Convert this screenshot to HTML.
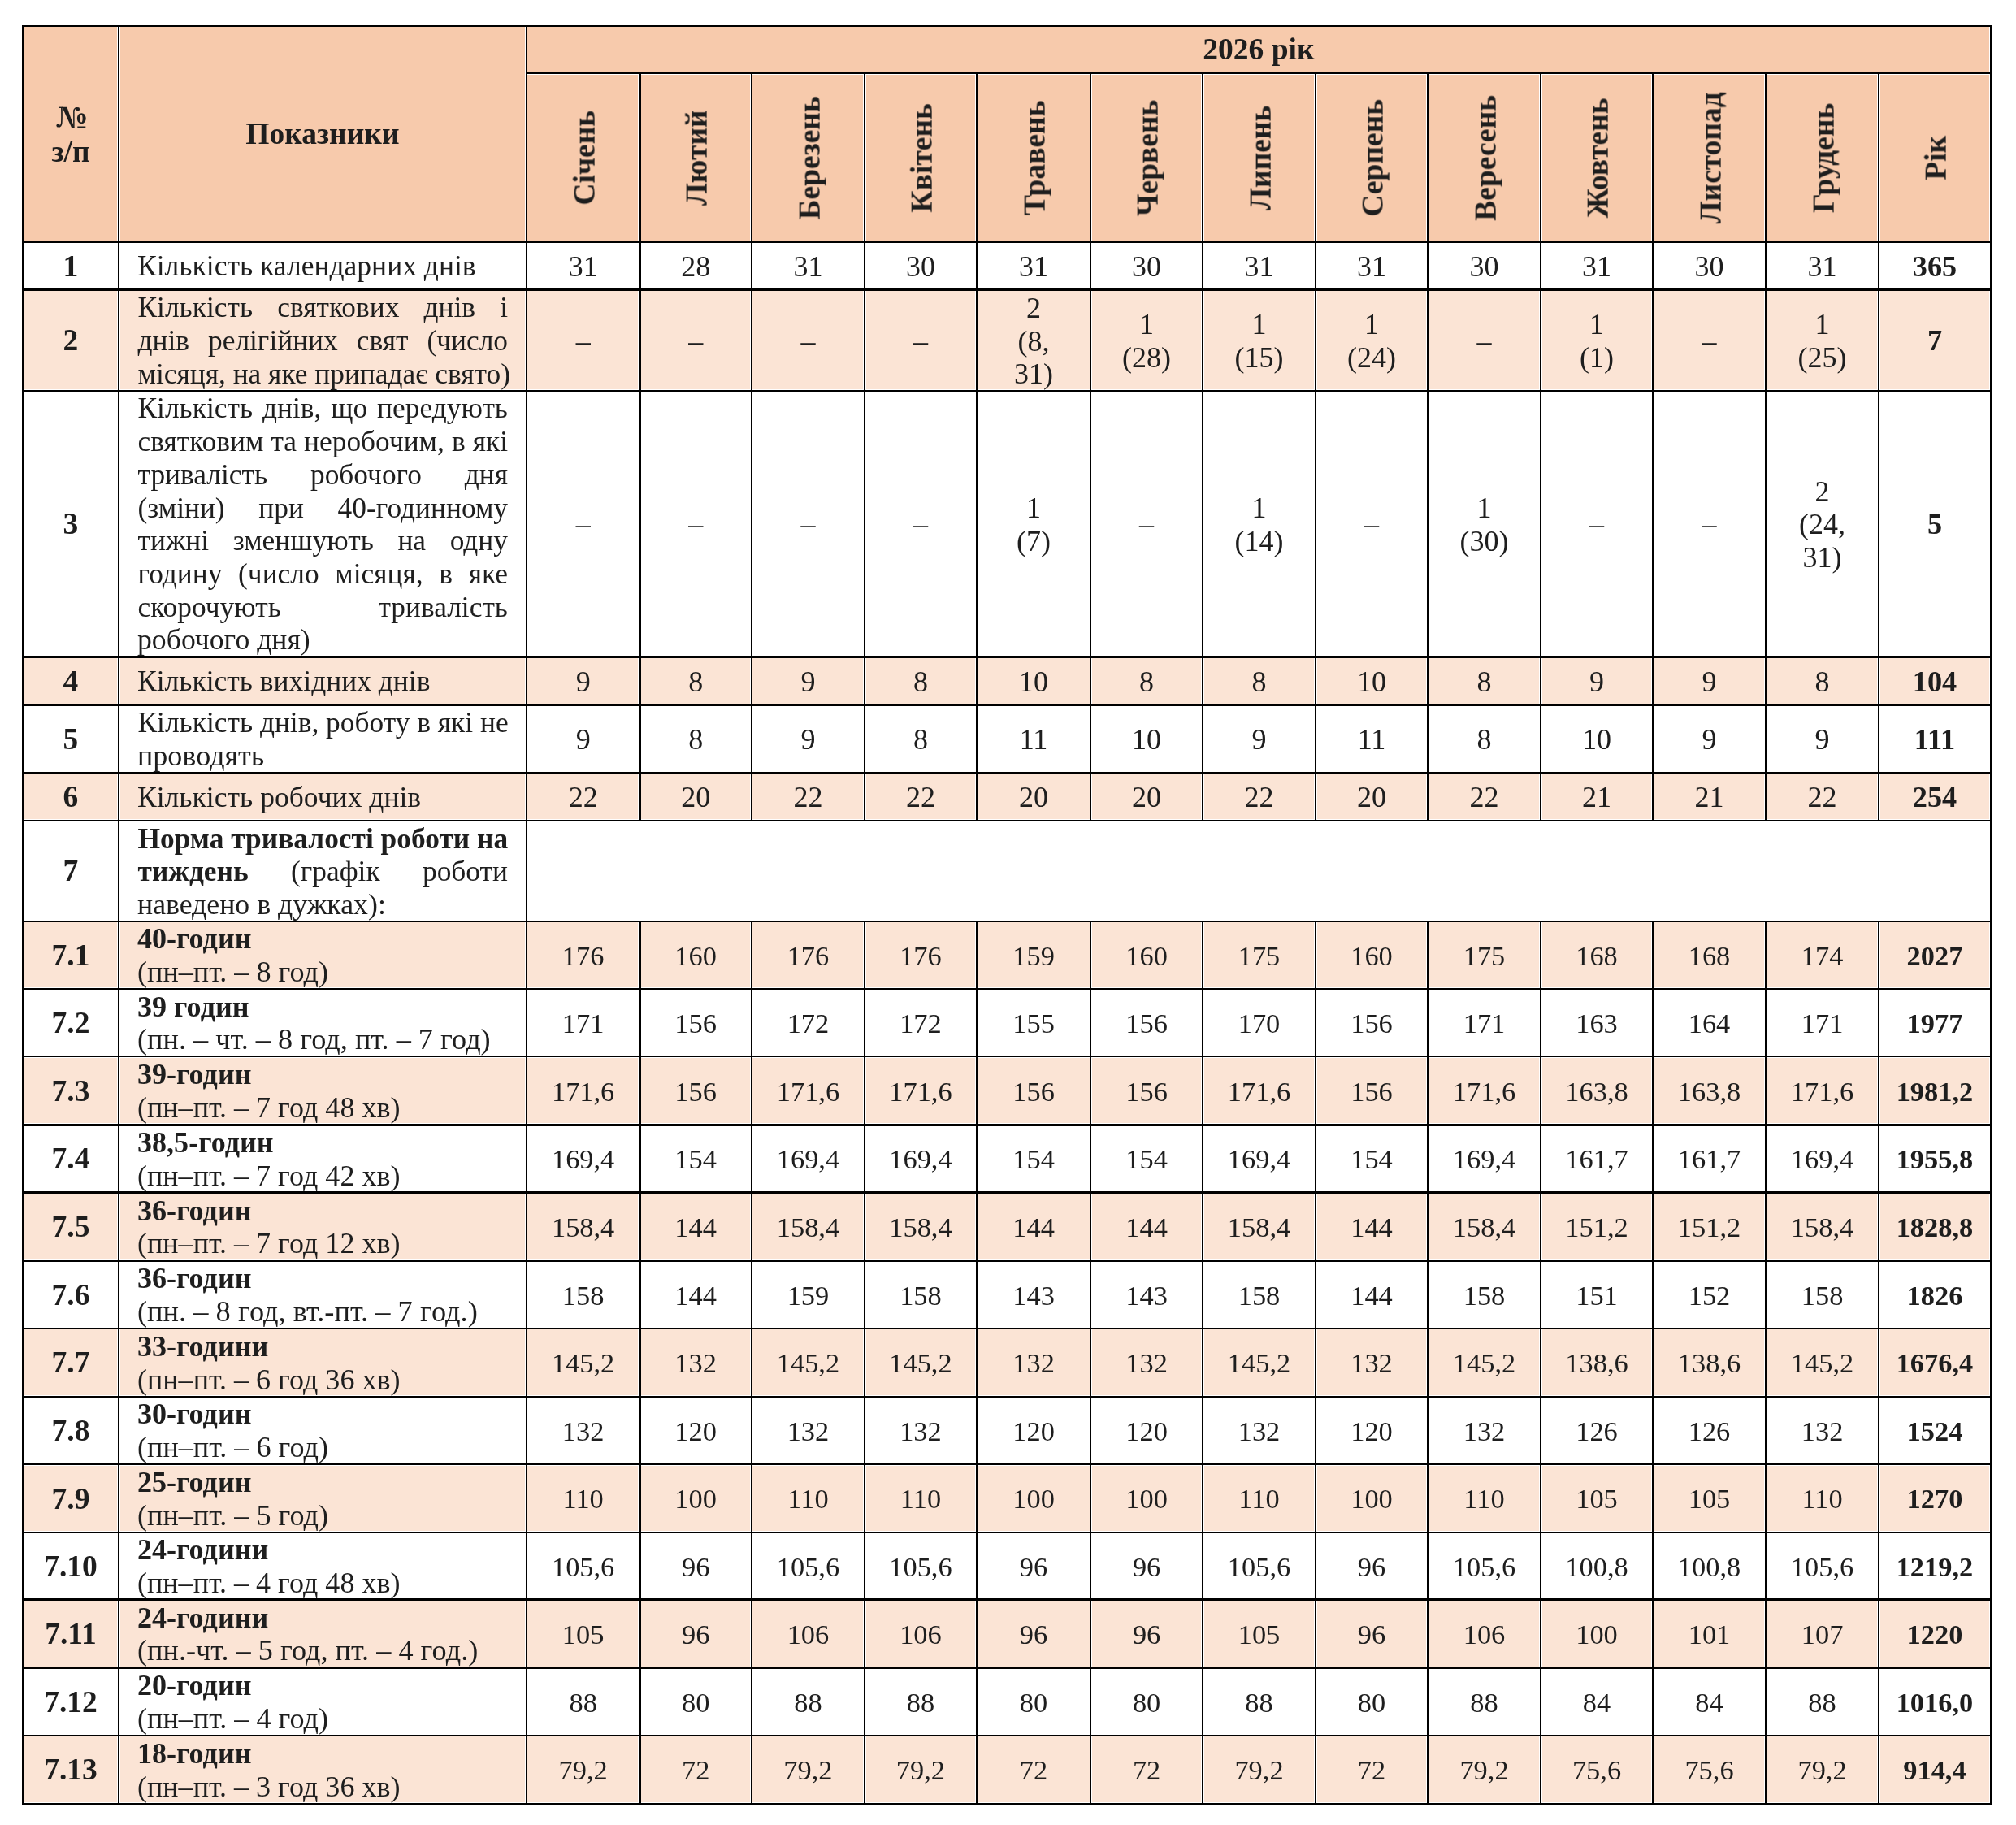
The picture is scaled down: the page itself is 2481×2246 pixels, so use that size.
<!DOCTYPE html>
<html><head><meta charset="utf-8"><style>
html,body{margin:0;padding:0;background:#fff;}
body{width:2481px;height:2246px;position:relative;overflow:hidden;}
div{position:absolute;}
.t{font-family:"Liberation Serif",serif;color:#1e1e1e;white-space:nowrap;}
b{font-weight:bold;}
</style></head><body>
<div style="left:27.90px;top:31.90px;width:2422.00px;height:265.80px;background:#F7CAAC"></div>
<div style="left:27.90px;top:356.40px;width:2422.00px;height:124.20px;background:#FBE4D5"></div>
<div style="left:27.90px;top:808.30px;width:2422.00px;height:59.50px;background:#FBE4D5"></div>
<div style="left:27.90px;top:950.60px;width:2422.00px;height:59.30px;background:#FBE4D5"></div>
<div style="left:27.90px;top:1133.90px;width:2422.00px;height:83.00px;background:#FBE4D5"></div>
<div style="left:27.90px;top:1300.30px;width:2422.00px;height:84.10px;background:#FBE4D5"></div>
<div style="left:27.90px;top:1467.20px;width:2422.00px;height:84.70px;background:#FBE4D5"></div>
<div style="left:27.90px;top:1634.70px;width:2422.00px;height:84.10px;background:#FBE4D5"></div>
<div style="left:27.90px;top:1802.00px;width:2422.00px;height:83.90px;background:#FBE4D5"></div>
<div style="left:27.90px;top:1968.40px;width:2422.00px;height:84.50px;background:#FBE4D5"></div>
<div style="left:27.90px;top:2135.75px;width:2422.00px;height:84.10px;background:#FBE4D5"></div>
<div style="left:26.90px;top:30.30px;width:2424.00px;height:3.20px;background:#fff"></div>
<div style="left:26.90px;top:296.10px;width:2424.00px;height:3.20px;background:#fff"></div>
<div style="left:26.90px;top:354.30px;width:2424.00px;height:4.20px;background:#fff"></div>
<div style="left:26.90px;top:479.00px;width:2424.00px;height:3.20px;background:#fff"></div>
<div style="left:26.90px;top:806.20px;width:2424.00px;height:4.20px;background:#fff"></div>
<div style="left:26.90px;top:866.20px;width:2424.00px;height:3.20px;background:#fff"></div>
<div style="left:26.90px;top:949.00px;width:2424.00px;height:3.20px;background:#fff"></div>
<div style="left:26.90px;top:1008.30px;width:2424.00px;height:3.20px;background:#fff"></div>
<div style="left:26.90px;top:1132.30px;width:2424.00px;height:3.20px;background:#fff"></div>
<div style="left:26.90px;top:1215.30px;width:2424.00px;height:3.20px;background:#fff"></div>
<div style="left:26.90px;top:1298.70px;width:2424.00px;height:3.20px;background:#fff"></div>
<div style="left:26.90px;top:1382.30px;width:2424.00px;height:4.20px;background:#fff"></div>
<div style="left:26.90px;top:1465.10px;width:2424.00px;height:4.20px;background:#fff"></div>
<div style="left:26.90px;top:1550.30px;width:2424.00px;height:3.20px;background:#fff"></div>
<div style="left:26.90px;top:1633.10px;width:2424.00px;height:3.20px;background:#fff"></div>
<div style="left:26.90px;top:1717.20px;width:2424.00px;height:3.20px;background:#fff"></div>
<div style="left:26.90px;top:1800.40px;width:2424.00px;height:3.20px;background:#fff"></div>
<div style="left:26.90px;top:1884.30px;width:2424.00px;height:3.20px;background:#fff"></div>
<div style="left:26.90px;top:1966.30px;width:2424.00px;height:4.20px;background:#fff"></div>
<div style="left:26.90px;top:2051.30px;width:2424.00px;height:3.20px;background:#fff"></div>
<div style="left:26.90px;top:2134.15px;width:2424.00px;height:3.20px;background:#fff"></div>
<div style="left:26.90px;top:2218.25px;width:2424.00px;height:3.20px;background:#fff"></div>
<div style="left:646.90px;top:88.35px;width:1804.00px;height:3.20px;background:#fff"></div>
<div style="left:26.30px;top:30.90px;width:3.20px;height:2189.95px;background:#fff"></div>
<div style="left:144.40px;top:30.90px;width:3.20px;height:2189.95px;background:#fff"></div>
<div style="left:646.30px;top:30.90px;width:3.20px;height:2189.95px;background:#fff"></div>
<div style="left:785.30px;top:88.95px;width:4.20px;height:921.95px;background:#fff"></div>
<div style="left:785.30px;top:1132.90px;width:4.20px;height:1087.95px;background:#fff"></div>
<div style="left:923.30px;top:88.95px;width:3.20px;height:921.95px;background:#fff"></div>
<div style="left:923.30px;top:1132.90px;width:3.20px;height:1087.95px;background:#fff"></div>
<div style="left:1062.40px;top:88.95px;width:3.20px;height:921.95px;background:#fff"></div>
<div style="left:1062.40px;top:1132.90px;width:3.20px;height:1087.95px;background:#fff"></div>
<div style="left:1200.30px;top:88.95px;width:3.20px;height:921.95px;background:#fff"></div>
<div style="left:1200.30px;top:1132.90px;width:3.20px;height:1087.95px;background:#fff"></div>
<div style="left:1340.60px;top:88.95px;width:3.20px;height:921.95px;background:#fff"></div>
<div style="left:1340.60px;top:1132.90px;width:3.20px;height:1087.95px;background:#fff"></div>
<div style="left:1478.40px;top:88.95px;width:3.20px;height:921.95px;background:#fff"></div>
<div style="left:1478.40px;top:1132.90px;width:3.20px;height:1087.95px;background:#fff"></div>
<div style="left:1617.40px;top:88.95px;width:3.20px;height:921.95px;background:#fff"></div>
<div style="left:1617.40px;top:1132.90px;width:3.20px;height:1087.95px;background:#fff"></div>
<div style="left:1755.40px;top:88.95px;width:3.20px;height:921.95px;background:#fff"></div>
<div style="left:1755.40px;top:1132.90px;width:3.20px;height:1087.95px;background:#fff"></div>
<div style="left:1894.45px;top:88.95px;width:3.20px;height:921.95px;background:#fff"></div>
<div style="left:1894.45px;top:1132.90px;width:3.20px;height:1087.95px;background:#fff"></div>
<div style="left:2032.40px;top:88.95px;width:3.20px;height:921.95px;background:#fff"></div>
<div style="left:2032.40px;top:1132.90px;width:3.20px;height:1087.95px;background:#fff"></div>
<div style="left:2171.45px;top:88.95px;width:3.20px;height:921.95px;background:#fff"></div>
<div style="left:2171.45px;top:1132.90px;width:3.20px;height:1087.95px;background:#fff"></div>
<div style="left:2310.45px;top:88.95px;width:3.20px;height:921.95px;background:#fff"></div>
<div style="left:2310.45px;top:1132.90px;width:3.20px;height:1087.95px;background:#fff"></div>
<div style="left:2448.30px;top:30.90px;width:3.20px;height:2189.95px;background:#fff"></div>
<div style="left:0;top:0;width:2481px;height:2246px;will-change:transform">
<div class="t" style="left:-63.05px;top:307.64px;font-size:37.5px;line-height:40.7px;width:300.00px;text-align:center;font-weight:bold;">1</div>
<div class="t" style="left:168.70px;top:307.45px;font-size:35.4px;line-height:40.7px;text-align:left;transform:scaleX(1.0045);transform-origin:0 0;">Кількість календарних днів</div>
<div class="t" style="left:567.65px;top:308.05px;font-size:36.0px;line-height:40.7px;width:300.00px;text-align:center;">31</div>
<div class="t" style="left:706.15px;top:308.05px;font-size:36.0px;line-height:40.7px;width:300.00px;text-align:center;">28</div>
<div class="t" style="left:844.45px;top:308.05px;font-size:36.0px;line-height:40.7px;width:300.00px;text-align:center;">31</div>
<div class="t" style="left:982.95px;top:308.05px;font-size:36.0px;line-height:40.7px;width:300.00px;text-align:center;">30</div>
<div class="t" style="left:1122.05px;top:308.05px;font-size:36.0px;line-height:40.7px;width:300.00px;text-align:center;">31</div>
<div class="t" style="left:1261.10px;top:308.05px;font-size:36.0px;line-height:40.7px;width:300.00px;text-align:center;">30</div>
<div class="t" style="left:1399.50px;top:308.05px;font-size:36.0px;line-height:40.7px;width:300.00px;text-align:center;">31</div>
<div class="t" style="left:1538.00px;top:308.05px;font-size:36.0px;line-height:40.7px;width:300.00px;text-align:center;">31</div>
<div class="t" style="left:1676.53px;top:308.05px;font-size:36.0px;line-height:40.7px;width:300.00px;text-align:center;">30</div>
<div class="t" style="left:1815.03px;top:308.05px;font-size:36.0px;line-height:40.7px;width:300.00px;text-align:center;">31</div>
<div class="t" style="left:1953.53px;top:308.05px;font-size:36.0px;line-height:40.7px;width:300.00px;text-align:center;">30</div>
<div class="t" style="left:2092.55px;top:308.05px;font-size:36.0px;line-height:40.7px;width:300.00px;text-align:center;">31</div>
<div class="t" style="left:2230.98px;top:307.95px;font-size:36.3px;line-height:40.7px;width:300.00px;text-align:center;font-weight:bold;">365</div>
<div class="t" style="left:-63.05px;top:399.09px;font-size:37.5px;line-height:40.7px;width:300.00px;text-align:center;font-weight:bold;">2</div>
<div class="t" style="left:169.50px;top:358.20px;font-size:35.4px;line-height:40.7px;width:455.50px;text-align:justify;text-align-last:justify;">Кількість святкових днів і</div>
<div class="t" style="left:169.50px;top:398.90px;font-size:35.4px;line-height:40.7px;width:455.50px;text-align:justify;text-align-last:justify;">днів релігійних свят (число</div>
<div class="t" style="left:169.50px;top:439.60px;font-size:35.4px;line-height:40.7px;width:455.50px;text-align:left;">місяця, на яке припадає свято)</div>
<div class="t" style="left:567.65px;top:399.50px;font-size:36.0px;line-height:40.7px;width:300.00px;text-align:center;">–</div>
<div class="t" style="left:706.15px;top:399.50px;font-size:36.0px;line-height:40.7px;width:300.00px;text-align:center;">–</div>
<div class="t" style="left:844.45px;top:399.50px;font-size:36.0px;line-height:40.7px;width:300.00px;text-align:center;">–</div>
<div class="t" style="left:982.95px;top:399.50px;font-size:36.0px;line-height:40.7px;width:300.00px;text-align:center;">–</div>
<div class="t" style="left:1122.05px;top:358.80px;font-size:36.0px;line-height:40.7px;width:300.00px;text-align:center;">2</div>
<div class="t" style="left:1122.05px;top:399.50px;font-size:36.0px;line-height:40.7px;width:300.00px;text-align:center;">(8,</div>
<div class="t" style="left:1122.05px;top:440.20px;font-size:36.0px;line-height:40.7px;width:300.00px;text-align:center;">31)</div>
<div class="t" style="left:1261.10px;top:379.15px;font-size:36.0px;line-height:40.7px;width:300.00px;text-align:center;">1</div>
<div class="t" style="left:1261.10px;top:419.85px;font-size:36.0px;line-height:40.7px;width:300.00px;text-align:center;">(28)</div>
<div class="t" style="left:1399.50px;top:379.15px;font-size:36.0px;line-height:40.7px;width:300.00px;text-align:center;">1</div>
<div class="t" style="left:1399.50px;top:419.85px;font-size:36.0px;line-height:40.7px;width:300.00px;text-align:center;">(15)</div>
<div class="t" style="left:1538.00px;top:379.15px;font-size:36.0px;line-height:40.7px;width:300.00px;text-align:center;">1</div>
<div class="t" style="left:1538.00px;top:419.85px;font-size:36.0px;line-height:40.7px;width:300.00px;text-align:center;">(24)</div>
<div class="t" style="left:1676.53px;top:399.50px;font-size:36.0px;line-height:40.7px;width:300.00px;text-align:center;">–</div>
<div class="t" style="left:1815.03px;top:379.15px;font-size:36.0px;line-height:40.7px;width:300.00px;text-align:center;">1</div>
<div class="t" style="left:1815.03px;top:419.85px;font-size:36.0px;line-height:40.7px;width:300.00px;text-align:center;">(1)</div>
<div class="t" style="left:1953.53px;top:399.50px;font-size:36.0px;line-height:40.7px;width:300.00px;text-align:center;">–</div>
<div class="t" style="left:2092.55px;top:379.15px;font-size:36.0px;line-height:40.7px;width:300.00px;text-align:center;">1</div>
<div class="t" style="left:2092.55px;top:419.85px;font-size:36.0px;line-height:40.7px;width:300.00px;text-align:center;">(25)</div>
<div class="t" style="left:2230.98px;top:399.40px;font-size:36.3px;line-height:40.7px;width:300.00px;text-align:center;font-weight:bold;">7</div>
<div class="t" style="left:-63.05px;top:625.04px;font-size:37.5px;line-height:40.7px;width:300.00px;text-align:center;font-weight:bold;">3</div>
<div class="t" style="left:169.50px;top:482.40px;font-size:35.4px;line-height:40.7px;width:455.50px;text-align:justify;text-align-last:justify;">Кількість днів, що передують</div>
<div class="t" style="left:169.50px;top:523.10px;font-size:35.4px;line-height:40.7px;width:455.50px;text-align:justify;text-align-last:justify;">святковим та неробочим, в які</div>
<div class="t" style="left:169.50px;top:563.80px;font-size:35.4px;line-height:40.7px;width:455.50px;text-align:justify;text-align-last:justify;">тривалість робочого дня</div>
<div class="t" style="left:169.50px;top:604.50px;font-size:35.4px;line-height:40.7px;width:455.50px;text-align:justify;text-align-last:justify;">(зміни) при 40-годинному</div>
<div class="t" style="left:169.50px;top:645.20px;font-size:35.4px;line-height:40.7px;width:455.50px;text-align:justify;text-align-last:justify;">тижні зменшують на одну</div>
<div class="t" style="left:169.50px;top:685.90px;font-size:35.4px;line-height:40.7px;width:455.50px;text-align:justify;text-align-last:justify;">годину (число місяця, в яке</div>
<div class="t" style="left:169.50px;top:726.60px;font-size:35.4px;line-height:40.7px;width:455.50px;text-align:justify;text-align-last:justify;">скорочують тривалість</div>
<div class="t" style="left:168.70px;top:767.30px;font-size:35.4px;line-height:40.7px;text-align:left;transform:scaleX(1.009);transform-origin:0 0;">робочого дня)</div>
<div class="t" style="left:567.65px;top:625.45px;font-size:36.0px;line-height:40.7px;width:300.00px;text-align:center;">–</div>
<div class="t" style="left:706.15px;top:625.45px;font-size:36.0px;line-height:40.7px;width:300.00px;text-align:center;">–</div>
<div class="t" style="left:844.45px;top:625.45px;font-size:36.0px;line-height:40.7px;width:300.00px;text-align:center;">–</div>
<div class="t" style="left:982.95px;top:625.45px;font-size:36.0px;line-height:40.7px;width:300.00px;text-align:center;">–</div>
<div class="t" style="left:1122.05px;top:605.10px;font-size:36.0px;line-height:40.7px;width:300.00px;text-align:center;">1</div>
<div class="t" style="left:1122.05px;top:645.80px;font-size:36.0px;line-height:40.7px;width:300.00px;text-align:center;">(7)</div>
<div class="t" style="left:1261.10px;top:625.45px;font-size:36.0px;line-height:40.7px;width:300.00px;text-align:center;">–</div>
<div class="t" style="left:1399.50px;top:605.10px;font-size:36.0px;line-height:40.7px;width:300.00px;text-align:center;">1</div>
<div class="t" style="left:1399.50px;top:645.80px;font-size:36.0px;line-height:40.7px;width:300.00px;text-align:center;">(14)</div>
<div class="t" style="left:1538.00px;top:625.45px;font-size:36.0px;line-height:40.7px;width:300.00px;text-align:center;">–</div>
<div class="t" style="left:1676.53px;top:605.10px;font-size:36.0px;line-height:40.7px;width:300.00px;text-align:center;">1</div>
<div class="t" style="left:1676.53px;top:645.80px;font-size:36.0px;line-height:40.7px;width:300.00px;text-align:center;">(30)</div>
<div class="t" style="left:1815.03px;top:625.45px;font-size:36.0px;line-height:40.7px;width:300.00px;text-align:center;">–</div>
<div class="t" style="left:1953.53px;top:625.45px;font-size:36.0px;line-height:40.7px;width:300.00px;text-align:center;">–</div>
<div class="t" style="left:2092.55px;top:584.75px;font-size:36.0px;line-height:40.7px;width:300.00px;text-align:center;">2</div>
<div class="t" style="left:2092.55px;top:625.45px;font-size:36.0px;line-height:40.7px;width:300.00px;text-align:center;">(24,</div>
<div class="t" style="left:2092.55px;top:666.15px;font-size:36.0px;line-height:40.7px;width:300.00px;text-align:center;">31)</div>
<div class="t" style="left:2230.98px;top:625.35px;font-size:36.3px;line-height:40.7px;width:300.00px;text-align:center;font-weight:bold;">5</div>
<div class="t" style="left:-63.05px;top:818.64px;font-size:37.5px;line-height:40.7px;width:300.00px;text-align:center;font-weight:bold;">4</div>
<div class="t" style="left:168.70px;top:818.45px;font-size:35.4px;line-height:40.7px;text-align:left;transform:scaleX(1.0025);transform-origin:0 0;">Кількість вихідних днів</div>
<div class="t" style="left:567.65px;top:819.05px;font-size:36.0px;line-height:40.7px;width:300.00px;text-align:center;">9</div>
<div class="t" style="left:706.15px;top:819.05px;font-size:36.0px;line-height:40.7px;width:300.00px;text-align:center;">8</div>
<div class="t" style="left:844.45px;top:819.05px;font-size:36.0px;line-height:40.7px;width:300.00px;text-align:center;">9</div>
<div class="t" style="left:982.95px;top:819.05px;font-size:36.0px;line-height:40.7px;width:300.00px;text-align:center;">8</div>
<div class="t" style="left:1122.05px;top:819.05px;font-size:36.0px;line-height:40.7px;width:300.00px;text-align:center;">10</div>
<div class="t" style="left:1261.10px;top:819.05px;font-size:36.0px;line-height:40.7px;width:300.00px;text-align:center;">8</div>
<div class="t" style="left:1399.50px;top:819.05px;font-size:36.0px;line-height:40.7px;width:300.00px;text-align:center;">8</div>
<div class="t" style="left:1538.00px;top:819.05px;font-size:36.0px;line-height:40.7px;width:300.00px;text-align:center;">10</div>
<div class="t" style="left:1676.53px;top:819.05px;font-size:36.0px;line-height:40.7px;width:300.00px;text-align:center;">8</div>
<div class="t" style="left:1815.03px;top:819.05px;font-size:36.0px;line-height:40.7px;width:300.00px;text-align:center;">9</div>
<div class="t" style="left:1953.53px;top:819.05px;font-size:36.0px;line-height:40.7px;width:300.00px;text-align:center;">9</div>
<div class="t" style="left:2092.55px;top:819.05px;font-size:36.0px;line-height:40.7px;width:300.00px;text-align:center;">8</div>
<div class="t" style="left:2230.98px;top:818.95px;font-size:36.3px;line-height:40.7px;width:300.00px;text-align:center;font-weight:bold;">104</div>
<div class="t" style="left:-63.05px;top:889.79px;font-size:37.5px;line-height:40.7px;width:300.00px;text-align:center;font-weight:bold;">5</div>
<div class="t" style="left:169.50px;top:869.25px;font-size:35.4px;line-height:40.7px;width:455.50px;text-align:justify;text-align-last:justify;">Кількість днів, роботу в які не</div>
<div class="t" style="left:168.70px;top:909.95px;font-size:35.4px;line-height:40.7px;text-align:left;transform:scaleX(1.019);transform-origin:0 0;">проводять</div>
<div class="t" style="left:567.65px;top:890.20px;font-size:36.0px;line-height:40.7px;width:300.00px;text-align:center;">9</div>
<div class="t" style="left:706.15px;top:890.20px;font-size:36.0px;line-height:40.7px;width:300.00px;text-align:center;">8</div>
<div class="t" style="left:844.45px;top:890.20px;font-size:36.0px;line-height:40.7px;width:300.00px;text-align:center;">9</div>
<div class="t" style="left:982.95px;top:890.20px;font-size:36.0px;line-height:40.7px;width:300.00px;text-align:center;">8</div>
<div class="t" style="left:1122.05px;top:890.20px;font-size:36.0px;line-height:40.7px;width:300.00px;text-align:center;">11</div>
<div class="t" style="left:1261.10px;top:890.20px;font-size:36.0px;line-height:40.7px;width:300.00px;text-align:center;">10</div>
<div class="t" style="left:1399.50px;top:890.20px;font-size:36.0px;line-height:40.7px;width:300.00px;text-align:center;">9</div>
<div class="t" style="left:1538.00px;top:890.20px;font-size:36.0px;line-height:40.7px;width:300.00px;text-align:center;">11</div>
<div class="t" style="left:1676.53px;top:890.20px;font-size:36.0px;line-height:40.7px;width:300.00px;text-align:center;">8</div>
<div class="t" style="left:1815.03px;top:890.20px;font-size:36.0px;line-height:40.7px;width:300.00px;text-align:center;">10</div>
<div class="t" style="left:1953.53px;top:890.20px;font-size:36.0px;line-height:40.7px;width:300.00px;text-align:center;">9</div>
<div class="t" style="left:2092.55px;top:890.20px;font-size:36.0px;line-height:40.7px;width:300.00px;text-align:center;">9</div>
<div class="t" style="left:2230.98px;top:890.10px;font-size:36.3px;line-height:40.7px;width:300.00px;text-align:center;font-weight:bold;">111</div>
<div class="t" style="left:-63.05px;top:960.84px;font-size:37.5px;line-height:40.7px;width:300.00px;text-align:center;font-weight:bold;">6</div>
<div class="t" style="left:168.70px;top:960.65px;font-size:35.4px;line-height:40.7px;text-align:left;transform:scaleX(1.005);transform-origin:0 0;">Кількість робочих днів</div>
<div class="t" style="left:567.65px;top:961.25px;font-size:36.0px;line-height:40.7px;width:300.00px;text-align:center;">22</div>
<div class="t" style="left:706.15px;top:961.25px;font-size:36.0px;line-height:40.7px;width:300.00px;text-align:center;">20</div>
<div class="t" style="left:844.45px;top:961.25px;font-size:36.0px;line-height:40.7px;width:300.00px;text-align:center;">22</div>
<div class="t" style="left:982.95px;top:961.25px;font-size:36.0px;line-height:40.7px;width:300.00px;text-align:center;">22</div>
<div class="t" style="left:1122.05px;top:961.25px;font-size:36.0px;line-height:40.7px;width:300.00px;text-align:center;">20</div>
<div class="t" style="left:1261.10px;top:961.25px;font-size:36.0px;line-height:40.7px;width:300.00px;text-align:center;">20</div>
<div class="t" style="left:1399.50px;top:961.25px;font-size:36.0px;line-height:40.7px;width:300.00px;text-align:center;">22</div>
<div class="t" style="left:1538.00px;top:961.25px;font-size:36.0px;line-height:40.7px;width:300.00px;text-align:center;">20</div>
<div class="t" style="left:1676.53px;top:961.25px;font-size:36.0px;line-height:40.7px;width:300.00px;text-align:center;">22</div>
<div class="t" style="left:1815.03px;top:961.25px;font-size:36.0px;line-height:40.7px;width:300.00px;text-align:center;">21</div>
<div class="t" style="left:1953.53px;top:961.25px;font-size:36.0px;line-height:40.7px;width:300.00px;text-align:center;">21</div>
<div class="t" style="left:2092.55px;top:961.25px;font-size:36.0px;line-height:40.7px;width:300.00px;text-align:center;">22</div>
<div class="t" style="left:2230.98px;top:961.15px;font-size:36.3px;line-height:40.7px;width:300.00px;text-align:center;font-weight:bold;">254</div>
<div class="t" style="left:-63.05px;top:1052.49px;font-size:37.5px;line-height:40.7px;width:300.00px;text-align:center;font-weight:bold;">7</div>
<div class="t" style="left:169.50px;top:1011.60px;font-size:35.4px;line-height:40.7px;width:455.50px;text-align:justify;text-align-last:justify;"><b>Норма тривалості роботи на</b></div>
<div class="t" style="left:169.50px;top:1052.30px;font-size:35.4px;line-height:40.7px;width:455.50px;text-align:justify;text-align-last:justify;"><b>тиждень</b> (графік роботи</div>
<div class="t" style="left:168.70px;top:1093.00px;font-size:35.4px;line-height:40.7px;text-align:left;transform:scaleX(1.011);transform-origin:0 0;">наведено в дужках):</div>
<div class="t" style="left:-63.05px;top:1155.99px;font-size:37.5px;line-height:40.7px;width:300.00px;text-align:center;font-weight:bold;">7.1</div>
<div class="t" style="left:168.70px;top:1135.45px;font-size:35.4px;line-height:40.7px;text-align:left;transform:scaleX(1.02);transform-origin:0 0;"><b>40-годин</b></div>
<div class="t" style="left:168.70px;top:1176.15px;font-size:35.4px;line-height:40.7px;text-align:left;transform:scaleX(1.022);transform-origin:0 0;">(пн–пт. – 8 год)</div>
<div class="t" style="left:567.65px;top:1155.84px;font-size:34.4px;line-height:40.7px;width:300.00px;text-align:center;">176</div>
<div class="t" style="left:706.15px;top:1155.84px;font-size:34.4px;line-height:40.7px;width:300.00px;text-align:center;">160</div>
<div class="t" style="left:844.45px;top:1155.84px;font-size:34.4px;line-height:40.7px;width:300.00px;text-align:center;">176</div>
<div class="t" style="left:982.95px;top:1155.84px;font-size:34.4px;line-height:40.7px;width:300.00px;text-align:center;">176</div>
<div class="t" style="left:1122.05px;top:1155.84px;font-size:34.4px;line-height:40.7px;width:300.00px;text-align:center;">159</div>
<div class="t" style="left:1261.10px;top:1155.84px;font-size:34.4px;line-height:40.7px;width:300.00px;text-align:center;">160</div>
<div class="t" style="left:1399.50px;top:1155.84px;font-size:34.4px;line-height:40.7px;width:300.00px;text-align:center;">175</div>
<div class="t" style="left:1538.00px;top:1155.84px;font-size:34.4px;line-height:40.7px;width:300.00px;text-align:center;">160</div>
<div class="t" style="left:1676.53px;top:1155.84px;font-size:34.4px;line-height:40.7px;width:300.00px;text-align:center;">175</div>
<div class="t" style="left:1815.03px;top:1155.84px;font-size:34.4px;line-height:40.7px;width:300.00px;text-align:center;">168</div>
<div class="t" style="left:1953.53px;top:1155.84px;font-size:34.4px;line-height:40.7px;width:300.00px;text-align:center;">168</div>
<div class="t" style="left:2092.55px;top:1155.84px;font-size:34.4px;line-height:40.7px;width:300.00px;text-align:center;">174</div>
<div class="t" style="left:2230.98px;top:1155.84px;font-size:34.4px;line-height:40.7px;width:300.00px;text-align:center;font-weight:bold;">2027</div>
<div class="t" style="left:-63.05px;top:1239.19px;font-size:37.5px;line-height:40.7px;width:300.00px;text-align:center;font-weight:bold;">7.2</div>
<div class="t" style="left:168.70px;top:1218.65px;font-size:35.4px;line-height:40.7px;text-align:left;transform:scaleX(1.02);transform-origin:0 0;"><b>39 годин</b></div>
<div class="t" style="left:168.70px;top:1259.35px;font-size:35.4px;line-height:40.7px;text-align:left;transform:scaleX(1.0254);transform-origin:0 0;">(пн. – чт. – 8 год, пт. – 7 год)</div>
<div class="t" style="left:567.65px;top:1239.04px;font-size:34.4px;line-height:40.7px;width:300.00px;text-align:center;">171</div>
<div class="t" style="left:706.15px;top:1239.04px;font-size:34.4px;line-height:40.7px;width:300.00px;text-align:center;">156</div>
<div class="t" style="left:844.45px;top:1239.04px;font-size:34.4px;line-height:40.7px;width:300.00px;text-align:center;">172</div>
<div class="t" style="left:982.95px;top:1239.04px;font-size:34.4px;line-height:40.7px;width:300.00px;text-align:center;">172</div>
<div class="t" style="left:1122.05px;top:1239.04px;font-size:34.4px;line-height:40.7px;width:300.00px;text-align:center;">155</div>
<div class="t" style="left:1261.10px;top:1239.04px;font-size:34.4px;line-height:40.7px;width:300.00px;text-align:center;">156</div>
<div class="t" style="left:1399.50px;top:1239.04px;font-size:34.4px;line-height:40.7px;width:300.00px;text-align:center;">170</div>
<div class="t" style="left:1538.00px;top:1239.04px;font-size:34.4px;line-height:40.7px;width:300.00px;text-align:center;">156</div>
<div class="t" style="left:1676.53px;top:1239.04px;font-size:34.4px;line-height:40.7px;width:300.00px;text-align:center;">171</div>
<div class="t" style="left:1815.03px;top:1239.04px;font-size:34.4px;line-height:40.7px;width:300.00px;text-align:center;">163</div>
<div class="t" style="left:1953.53px;top:1239.04px;font-size:34.4px;line-height:40.7px;width:300.00px;text-align:center;">164</div>
<div class="t" style="left:2092.55px;top:1239.04px;font-size:34.4px;line-height:40.7px;width:300.00px;text-align:center;">171</div>
<div class="t" style="left:2230.98px;top:1239.04px;font-size:34.4px;line-height:40.7px;width:300.00px;text-align:center;font-weight:bold;">1977</div>
<div class="t" style="left:-63.05px;top:1322.94px;font-size:37.5px;line-height:40.7px;width:300.00px;text-align:center;font-weight:bold;">7.3</div>
<div class="t" style="left:168.70px;top:1302.40px;font-size:35.4px;line-height:40.7px;text-align:left;transform:scaleX(1.02);transform-origin:0 0;"><b>39-годин</b></div>
<div class="t" style="left:168.70px;top:1343.10px;font-size:35.4px;line-height:40.7px;text-align:left;transform:scaleX(1.019);transform-origin:0 0;">(пн–пт. – 7 год 48 хв)</div>
<div class="t" style="left:567.65px;top:1322.79px;font-size:34.4px;line-height:40.7px;width:300.00px;text-align:center;">171,6</div>
<div class="t" style="left:706.15px;top:1322.79px;font-size:34.4px;line-height:40.7px;width:300.00px;text-align:center;">156</div>
<div class="t" style="left:844.45px;top:1322.79px;font-size:34.4px;line-height:40.7px;width:300.00px;text-align:center;">171,6</div>
<div class="t" style="left:982.95px;top:1322.79px;font-size:34.4px;line-height:40.7px;width:300.00px;text-align:center;">171,6</div>
<div class="t" style="left:1122.05px;top:1322.79px;font-size:34.4px;line-height:40.7px;width:300.00px;text-align:center;">156</div>
<div class="t" style="left:1261.10px;top:1322.79px;font-size:34.4px;line-height:40.7px;width:300.00px;text-align:center;">156</div>
<div class="t" style="left:1399.50px;top:1322.79px;font-size:34.4px;line-height:40.7px;width:300.00px;text-align:center;">171,6</div>
<div class="t" style="left:1538.00px;top:1322.79px;font-size:34.4px;line-height:40.7px;width:300.00px;text-align:center;">156</div>
<div class="t" style="left:1676.53px;top:1322.79px;font-size:34.4px;line-height:40.7px;width:300.00px;text-align:center;">171,6</div>
<div class="t" style="left:1815.03px;top:1322.79px;font-size:34.4px;line-height:40.7px;width:300.00px;text-align:center;">163,8</div>
<div class="t" style="left:1953.53px;top:1322.79px;font-size:34.4px;line-height:40.7px;width:300.00px;text-align:center;">163,8</div>
<div class="t" style="left:2092.55px;top:1322.79px;font-size:34.4px;line-height:40.7px;width:300.00px;text-align:center;">171,6</div>
<div class="t" style="left:2230.98px;top:1322.79px;font-size:34.4px;line-height:40.7px;width:300.00px;text-align:center;font-weight:bold;">1981,2</div>
<div class="t" style="left:-63.05px;top:1406.39px;font-size:37.5px;line-height:40.7px;width:300.00px;text-align:center;font-weight:bold;">7.4</div>
<div class="t" style="left:168.70px;top:1385.85px;font-size:35.4px;line-height:40.7px;text-align:left;transform:scaleX(1.02);transform-origin:0 0;"><b>38,5-годин</b></div>
<div class="t" style="left:168.70px;top:1426.55px;font-size:35.4px;line-height:40.7px;text-align:left;transform:scaleX(1.019);transform-origin:0 0;">(пн–пт. – 7 год 42 хв)</div>
<div class="t" style="left:567.65px;top:1406.24px;font-size:34.4px;line-height:40.7px;width:300.00px;text-align:center;">169,4</div>
<div class="t" style="left:706.15px;top:1406.24px;font-size:34.4px;line-height:40.7px;width:300.00px;text-align:center;">154</div>
<div class="t" style="left:844.45px;top:1406.24px;font-size:34.4px;line-height:40.7px;width:300.00px;text-align:center;">169,4</div>
<div class="t" style="left:982.95px;top:1406.24px;font-size:34.4px;line-height:40.7px;width:300.00px;text-align:center;">169,4</div>
<div class="t" style="left:1122.05px;top:1406.24px;font-size:34.4px;line-height:40.7px;width:300.00px;text-align:center;">154</div>
<div class="t" style="left:1261.10px;top:1406.24px;font-size:34.4px;line-height:40.7px;width:300.00px;text-align:center;">154</div>
<div class="t" style="left:1399.50px;top:1406.24px;font-size:34.4px;line-height:40.7px;width:300.00px;text-align:center;">169,4</div>
<div class="t" style="left:1538.00px;top:1406.24px;font-size:34.4px;line-height:40.7px;width:300.00px;text-align:center;">154</div>
<div class="t" style="left:1676.53px;top:1406.24px;font-size:34.4px;line-height:40.7px;width:300.00px;text-align:center;">169,4</div>
<div class="t" style="left:1815.03px;top:1406.24px;font-size:34.4px;line-height:40.7px;width:300.00px;text-align:center;">161,7</div>
<div class="t" style="left:1953.53px;top:1406.24px;font-size:34.4px;line-height:40.7px;width:300.00px;text-align:center;">161,7</div>
<div class="t" style="left:2092.55px;top:1406.24px;font-size:34.4px;line-height:40.7px;width:300.00px;text-align:center;">169,4</div>
<div class="t" style="left:2230.98px;top:1406.24px;font-size:34.4px;line-height:40.7px;width:300.00px;text-align:center;font-weight:bold;">1955,8</div>
<div class="t" style="left:-63.05px;top:1490.14px;font-size:37.5px;line-height:40.7px;width:300.00px;text-align:center;font-weight:bold;">7.5</div>
<div class="t" style="left:168.70px;top:1469.60px;font-size:35.4px;line-height:40.7px;text-align:left;transform:scaleX(1.02);transform-origin:0 0;"><b>36-годин</b></div>
<div class="t" style="left:168.70px;top:1510.30px;font-size:35.4px;line-height:40.7px;text-align:left;transform:scaleX(1.019);transform-origin:0 0;">(пн–пт. – 7 год 12 хв)</div>
<div class="t" style="left:567.65px;top:1489.99px;font-size:34.4px;line-height:40.7px;width:300.00px;text-align:center;">158,4</div>
<div class="t" style="left:706.15px;top:1489.99px;font-size:34.4px;line-height:40.7px;width:300.00px;text-align:center;">144</div>
<div class="t" style="left:844.45px;top:1489.99px;font-size:34.4px;line-height:40.7px;width:300.00px;text-align:center;">158,4</div>
<div class="t" style="left:982.95px;top:1489.99px;font-size:34.4px;line-height:40.7px;width:300.00px;text-align:center;">158,4</div>
<div class="t" style="left:1122.05px;top:1489.99px;font-size:34.4px;line-height:40.7px;width:300.00px;text-align:center;">144</div>
<div class="t" style="left:1261.10px;top:1489.99px;font-size:34.4px;line-height:40.7px;width:300.00px;text-align:center;">144</div>
<div class="t" style="left:1399.50px;top:1489.99px;font-size:34.4px;line-height:40.7px;width:300.00px;text-align:center;">158,4</div>
<div class="t" style="left:1538.00px;top:1489.99px;font-size:34.4px;line-height:40.7px;width:300.00px;text-align:center;">144</div>
<div class="t" style="left:1676.53px;top:1489.99px;font-size:34.4px;line-height:40.7px;width:300.00px;text-align:center;">158,4</div>
<div class="t" style="left:1815.03px;top:1489.99px;font-size:34.4px;line-height:40.7px;width:300.00px;text-align:center;">151,2</div>
<div class="t" style="left:1953.53px;top:1489.99px;font-size:34.4px;line-height:40.7px;width:300.00px;text-align:center;">151,2</div>
<div class="t" style="left:2092.55px;top:1489.99px;font-size:34.4px;line-height:40.7px;width:300.00px;text-align:center;">158,4</div>
<div class="t" style="left:2230.98px;top:1489.99px;font-size:34.4px;line-height:40.7px;width:300.00px;text-align:center;font-weight:bold;">1828,8</div>
<div class="t" style="left:-63.05px;top:1573.89px;font-size:37.5px;line-height:40.7px;width:300.00px;text-align:center;font-weight:bold;">7.6</div>
<div class="t" style="left:168.70px;top:1553.35px;font-size:35.4px;line-height:40.7px;text-align:left;transform:scaleX(1.02);transform-origin:0 0;"><b>36-годин</b></div>
<div class="t" style="left:168.70px;top:1594.05px;font-size:35.4px;line-height:40.7px;text-align:left;transform:scaleX(1.0285);transform-origin:0 0;">(пн. – 8 год, вт.-пт. – 7 год.)</div>
<div class="t" style="left:567.65px;top:1573.74px;font-size:34.4px;line-height:40.7px;width:300.00px;text-align:center;">158</div>
<div class="t" style="left:706.15px;top:1573.74px;font-size:34.4px;line-height:40.7px;width:300.00px;text-align:center;">144</div>
<div class="t" style="left:844.45px;top:1573.74px;font-size:34.4px;line-height:40.7px;width:300.00px;text-align:center;">159</div>
<div class="t" style="left:982.95px;top:1573.74px;font-size:34.4px;line-height:40.7px;width:300.00px;text-align:center;">158</div>
<div class="t" style="left:1122.05px;top:1573.74px;font-size:34.4px;line-height:40.7px;width:300.00px;text-align:center;">143</div>
<div class="t" style="left:1261.10px;top:1573.74px;font-size:34.4px;line-height:40.7px;width:300.00px;text-align:center;">143</div>
<div class="t" style="left:1399.50px;top:1573.74px;font-size:34.4px;line-height:40.7px;width:300.00px;text-align:center;">158</div>
<div class="t" style="left:1538.00px;top:1573.74px;font-size:34.4px;line-height:40.7px;width:300.00px;text-align:center;">144</div>
<div class="t" style="left:1676.53px;top:1573.74px;font-size:34.4px;line-height:40.7px;width:300.00px;text-align:center;">158</div>
<div class="t" style="left:1815.03px;top:1573.74px;font-size:34.4px;line-height:40.7px;width:300.00px;text-align:center;">151</div>
<div class="t" style="left:1953.53px;top:1573.74px;font-size:34.4px;line-height:40.7px;width:300.00px;text-align:center;">152</div>
<div class="t" style="left:2092.55px;top:1573.74px;font-size:34.4px;line-height:40.7px;width:300.00px;text-align:center;">158</div>
<div class="t" style="left:2230.98px;top:1573.74px;font-size:34.4px;line-height:40.7px;width:300.00px;text-align:center;font-weight:bold;">1826</div>
<div class="t" style="left:-63.05px;top:1657.34px;font-size:37.5px;line-height:40.7px;width:300.00px;text-align:center;font-weight:bold;">7.7</div>
<div class="t" style="left:168.70px;top:1636.80px;font-size:35.4px;line-height:40.7px;text-align:left;transform:scaleX(1.02);transform-origin:0 0;"><b>33-години</b></div>
<div class="t" style="left:168.70px;top:1677.50px;font-size:35.4px;line-height:40.7px;text-align:left;transform:scaleX(1.019);transform-origin:0 0;">(пн–пт. – 6 год 36 хв)</div>
<div class="t" style="left:567.65px;top:1657.19px;font-size:34.4px;line-height:40.7px;width:300.00px;text-align:center;">145,2</div>
<div class="t" style="left:706.15px;top:1657.19px;font-size:34.4px;line-height:40.7px;width:300.00px;text-align:center;">132</div>
<div class="t" style="left:844.45px;top:1657.19px;font-size:34.4px;line-height:40.7px;width:300.00px;text-align:center;">145,2</div>
<div class="t" style="left:982.95px;top:1657.19px;font-size:34.4px;line-height:40.7px;width:300.00px;text-align:center;">145,2</div>
<div class="t" style="left:1122.05px;top:1657.19px;font-size:34.4px;line-height:40.7px;width:300.00px;text-align:center;">132</div>
<div class="t" style="left:1261.10px;top:1657.19px;font-size:34.4px;line-height:40.7px;width:300.00px;text-align:center;">132</div>
<div class="t" style="left:1399.50px;top:1657.19px;font-size:34.4px;line-height:40.7px;width:300.00px;text-align:center;">145,2</div>
<div class="t" style="left:1538.00px;top:1657.19px;font-size:34.4px;line-height:40.7px;width:300.00px;text-align:center;">132</div>
<div class="t" style="left:1676.53px;top:1657.19px;font-size:34.4px;line-height:40.7px;width:300.00px;text-align:center;">145,2</div>
<div class="t" style="left:1815.03px;top:1657.19px;font-size:34.4px;line-height:40.7px;width:300.00px;text-align:center;">138,6</div>
<div class="t" style="left:1953.53px;top:1657.19px;font-size:34.4px;line-height:40.7px;width:300.00px;text-align:center;">138,6</div>
<div class="t" style="left:2092.55px;top:1657.19px;font-size:34.4px;line-height:40.7px;width:300.00px;text-align:center;">145,2</div>
<div class="t" style="left:2230.98px;top:1657.19px;font-size:34.4px;line-height:40.7px;width:300.00px;text-align:center;font-weight:bold;">1676,4</div>
<div class="t" style="left:-63.05px;top:1740.99px;font-size:37.5px;line-height:40.7px;width:300.00px;text-align:center;font-weight:bold;">7.8</div>
<div class="t" style="left:168.70px;top:1720.45px;font-size:35.4px;line-height:40.7px;text-align:left;transform:scaleX(1.02);transform-origin:0 0;"><b>30-годин</b></div>
<div class="t" style="left:168.70px;top:1761.15px;font-size:35.4px;line-height:40.7px;text-align:left;transform:scaleX(1.022);transform-origin:0 0;">(пн–пт. – 6 год)</div>
<div class="t" style="left:567.65px;top:1740.84px;font-size:34.4px;line-height:40.7px;width:300.00px;text-align:center;">132</div>
<div class="t" style="left:706.15px;top:1740.84px;font-size:34.4px;line-height:40.7px;width:300.00px;text-align:center;">120</div>
<div class="t" style="left:844.45px;top:1740.84px;font-size:34.4px;line-height:40.7px;width:300.00px;text-align:center;">132</div>
<div class="t" style="left:982.95px;top:1740.84px;font-size:34.4px;line-height:40.7px;width:300.00px;text-align:center;">132</div>
<div class="t" style="left:1122.05px;top:1740.84px;font-size:34.4px;line-height:40.7px;width:300.00px;text-align:center;">120</div>
<div class="t" style="left:1261.10px;top:1740.84px;font-size:34.4px;line-height:40.7px;width:300.00px;text-align:center;">120</div>
<div class="t" style="left:1399.50px;top:1740.84px;font-size:34.4px;line-height:40.7px;width:300.00px;text-align:center;">132</div>
<div class="t" style="left:1538.00px;top:1740.84px;font-size:34.4px;line-height:40.7px;width:300.00px;text-align:center;">120</div>
<div class="t" style="left:1676.53px;top:1740.84px;font-size:34.4px;line-height:40.7px;width:300.00px;text-align:center;">132</div>
<div class="t" style="left:1815.03px;top:1740.84px;font-size:34.4px;line-height:40.7px;width:300.00px;text-align:center;">126</div>
<div class="t" style="left:1953.53px;top:1740.84px;font-size:34.4px;line-height:40.7px;width:300.00px;text-align:center;">126</div>
<div class="t" style="left:2092.55px;top:1740.84px;font-size:34.4px;line-height:40.7px;width:300.00px;text-align:center;">132</div>
<div class="t" style="left:2230.98px;top:1740.84px;font-size:34.4px;line-height:40.7px;width:300.00px;text-align:center;font-weight:bold;">1524</div>
<div class="t" style="left:-63.05px;top:1824.54px;font-size:37.5px;line-height:40.7px;width:300.00px;text-align:center;font-weight:bold;">7.9</div>
<div class="t" style="left:168.70px;top:1804.00px;font-size:35.4px;line-height:40.7px;text-align:left;transform:scaleX(1.02);transform-origin:0 0;"><b>25-годин</b></div>
<div class="t" style="left:168.70px;top:1844.70px;font-size:35.4px;line-height:40.7px;text-align:left;transform:scaleX(1.022);transform-origin:0 0;">(пн–пт. – 5 год)</div>
<div class="t" style="left:567.65px;top:1824.39px;font-size:34.4px;line-height:40.7px;width:300.00px;text-align:center;">110</div>
<div class="t" style="left:706.15px;top:1824.39px;font-size:34.4px;line-height:40.7px;width:300.00px;text-align:center;">100</div>
<div class="t" style="left:844.45px;top:1824.39px;font-size:34.4px;line-height:40.7px;width:300.00px;text-align:center;">110</div>
<div class="t" style="left:982.95px;top:1824.39px;font-size:34.4px;line-height:40.7px;width:300.00px;text-align:center;">110</div>
<div class="t" style="left:1122.05px;top:1824.39px;font-size:34.4px;line-height:40.7px;width:300.00px;text-align:center;">100</div>
<div class="t" style="left:1261.10px;top:1824.39px;font-size:34.4px;line-height:40.7px;width:300.00px;text-align:center;">100</div>
<div class="t" style="left:1399.50px;top:1824.39px;font-size:34.4px;line-height:40.7px;width:300.00px;text-align:center;">110</div>
<div class="t" style="left:1538.00px;top:1824.39px;font-size:34.4px;line-height:40.7px;width:300.00px;text-align:center;">100</div>
<div class="t" style="left:1676.53px;top:1824.39px;font-size:34.4px;line-height:40.7px;width:300.00px;text-align:center;">110</div>
<div class="t" style="left:1815.03px;top:1824.39px;font-size:34.4px;line-height:40.7px;width:300.00px;text-align:center;">105</div>
<div class="t" style="left:1953.53px;top:1824.39px;font-size:34.4px;line-height:40.7px;width:300.00px;text-align:center;">105</div>
<div class="t" style="left:2092.55px;top:1824.39px;font-size:34.4px;line-height:40.7px;width:300.00px;text-align:center;">110</div>
<div class="t" style="left:2230.98px;top:1824.39px;font-size:34.4px;line-height:40.7px;width:300.00px;text-align:center;font-weight:bold;">1270</div>
<div class="t" style="left:-63.05px;top:1907.74px;font-size:37.5px;line-height:40.7px;width:300.00px;text-align:center;font-weight:bold;">7.10</div>
<div class="t" style="left:168.70px;top:1887.20px;font-size:35.4px;line-height:40.7px;text-align:left;transform:scaleX(1.02);transform-origin:0 0;"><b>24-години</b></div>
<div class="t" style="left:168.70px;top:1927.90px;font-size:35.4px;line-height:40.7px;text-align:left;transform:scaleX(1.019);transform-origin:0 0;">(пн–пт. – 4 год 48 хв)</div>
<div class="t" style="left:567.65px;top:1907.59px;font-size:34.4px;line-height:40.7px;width:300.00px;text-align:center;">105,6</div>
<div class="t" style="left:706.15px;top:1907.59px;font-size:34.4px;line-height:40.7px;width:300.00px;text-align:center;">96</div>
<div class="t" style="left:844.45px;top:1907.59px;font-size:34.4px;line-height:40.7px;width:300.00px;text-align:center;">105,6</div>
<div class="t" style="left:982.95px;top:1907.59px;font-size:34.4px;line-height:40.7px;width:300.00px;text-align:center;">105,6</div>
<div class="t" style="left:1122.05px;top:1907.59px;font-size:34.4px;line-height:40.7px;width:300.00px;text-align:center;">96</div>
<div class="t" style="left:1261.10px;top:1907.59px;font-size:34.4px;line-height:40.7px;width:300.00px;text-align:center;">96</div>
<div class="t" style="left:1399.50px;top:1907.59px;font-size:34.4px;line-height:40.7px;width:300.00px;text-align:center;">105,6</div>
<div class="t" style="left:1538.00px;top:1907.59px;font-size:34.4px;line-height:40.7px;width:300.00px;text-align:center;">96</div>
<div class="t" style="left:1676.53px;top:1907.59px;font-size:34.4px;line-height:40.7px;width:300.00px;text-align:center;">105,6</div>
<div class="t" style="left:1815.03px;top:1907.59px;font-size:34.4px;line-height:40.7px;width:300.00px;text-align:center;">100,8</div>
<div class="t" style="left:1953.53px;top:1907.59px;font-size:34.4px;line-height:40.7px;width:300.00px;text-align:center;">100,8</div>
<div class="t" style="left:2092.55px;top:1907.59px;font-size:34.4px;line-height:40.7px;width:300.00px;text-align:center;">105,6</div>
<div class="t" style="left:2230.98px;top:1907.59px;font-size:34.4px;line-height:40.7px;width:300.00px;text-align:center;font-weight:bold;">1219,2</div>
<div class="t" style="left:-63.05px;top:1991.24px;font-size:37.5px;line-height:40.7px;width:300.00px;text-align:center;font-weight:bold;">7.11</div>
<div class="t" style="left:168.70px;top:1970.70px;font-size:35.4px;line-height:40.7px;text-align:left;transform:scaleX(1.02);transform-origin:0 0;"><b>24-години</b></div>
<div class="t" style="left:168.70px;top:2011.40px;font-size:35.4px;line-height:40.7px;text-align:left;transform:scaleX(1.0247);transform-origin:0 0;">(пн.-чт. – 5 год, пт. – 4 год.)</div>
<div class="t" style="left:567.65px;top:1991.09px;font-size:34.4px;line-height:40.7px;width:300.00px;text-align:center;">105</div>
<div class="t" style="left:706.15px;top:1991.09px;font-size:34.4px;line-height:40.7px;width:300.00px;text-align:center;">96</div>
<div class="t" style="left:844.45px;top:1991.09px;font-size:34.4px;line-height:40.7px;width:300.00px;text-align:center;">106</div>
<div class="t" style="left:982.95px;top:1991.09px;font-size:34.4px;line-height:40.7px;width:300.00px;text-align:center;">106</div>
<div class="t" style="left:1122.05px;top:1991.09px;font-size:34.4px;line-height:40.7px;width:300.00px;text-align:center;">96</div>
<div class="t" style="left:1261.10px;top:1991.09px;font-size:34.4px;line-height:40.7px;width:300.00px;text-align:center;">96</div>
<div class="t" style="left:1399.50px;top:1991.09px;font-size:34.4px;line-height:40.7px;width:300.00px;text-align:center;">105</div>
<div class="t" style="left:1538.00px;top:1991.09px;font-size:34.4px;line-height:40.7px;width:300.00px;text-align:center;">96</div>
<div class="t" style="left:1676.53px;top:1991.09px;font-size:34.4px;line-height:40.7px;width:300.00px;text-align:center;">106</div>
<div class="t" style="left:1815.03px;top:1991.09px;font-size:34.4px;line-height:40.7px;width:300.00px;text-align:center;">100</div>
<div class="t" style="left:1953.53px;top:1991.09px;font-size:34.4px;line-height:40.7px;width:300.00px;text-align:center;">101</div>
<div class="t" style="left:2092.55px;top:1991.09px;font-size:34.4px;line-height:40.7px;width:300.00px;text-align:center;">107</div>
<div class="t" style="left:2230.98px;top:1991.09px;font-size:34.4px;line-height:40.7px;width:300.00px;text-align:center;font-weight:bold;">1220</div>
<div class="t" style="left:-63.05px;top:2074.92px;font-size:37.5px;line-height:40.7px;width:300.00px;text-align:center;font-weight:bold;">7.12</div>
<div class="t" style="left:168.70px;top:2054.38px;font-size:35.4px;line-height:40.7px;text-align:left;transform:scaleX(1.02);transform-origin:0 0;"><b>20-годин</b></div>
<div class="t" style="left:168.70px;top:2095.08px;font-size:35.4px;line-height:40.7px;text-align:left;transform:scaleX(1.022);transform-origin:0 0;">(пн–пт. – 4 год)</div>
<div class="t" style="left:567.65px;top:2074.76px;font-size:34.4px;line-height:40.7px;width:300.00px;text-align:center;">88</div>
<div class="t" style="left:706.15px;top:2074.76px;font-size:34.4px;line-height:40.7px;width:300.00px;text-align:center;">80</div>
<div class="t" style="left:844.45px;top:2074.76px;font-size:34.4px;line-height:40.7px;width:300.00px;text-align:center;">88</div>
<div class="t" style="left:982.95px;top:2074.76px;font-size:34.4px;line-height:40.7px;width:300.00px;text-align:center;">88</div>
<div class="t" style="left:1122.05px;top:2074.76px;font-size:34.4px;line-height:40.7px;width:300.00px;text-align:center;">80</div>
<div class="t" style="left:1261.10px;top:2074.76px;font-size:34.4px;line-height:40.7px;width:300.00px;text-align:center;">80</div>
<div class="t" style="left:1399.50px;top:2074.76px;font-size:34.4px;line-height:40.7px;width:300.00px;text-align:center;">88</div>
<div class="t" style="left:1538.00px;top:2074.76px;font-size:34.4px;line-height:40.7px;width:300.00px;text-align:center;">80</div>
<div class="t" style="left:1676.53px;top:2074.76px;font-size:34.4px;line-height:40.7px;width:300.00px;text-align:center;">88</div>
<div class="t" style="left:1815.03px;top:2074.76px;font-size:34.4px;line-height:40.7px;width:300.00px;text-align:center;">84</div>
<div class="t" style="left:1953.53px;top:2074.76px;font-size:34.4px;line-height:40.7px;width:300.00px;text-align:center;">84</div>
<div class="t" style="left:2092.55px;top:2074.76px;font-size:34.4px;line-height:40.7px;width:300.00px;text-align:center;">88</div>
<div class="t" style="left:2230.98px;top:2074.76px;font-size:34.4px;line-height:40.7px;width:300.00px;text-align:center;font-weight:bold;">1016,0</div>
<div class="t" style="left:-63.05px;top:2158.39px;font-size:37.5px;line-height:40.7px;width:300.00px;text-align:center;font-weight:bold;">7.13</div>
<div class="t" style="left:168.70px;top:2137.85px;font-size:35.4px;line-height:40.7px;text-align:left;transform:scaleX(1.02);transform-origin:0 0;"><b>18-годин</b></div>
<div class="t" style="left:168.70px;top:2178.55px;font-size:35.4px;line-height:40.7px;text-align:left;transform:scaleX(1.019);transform-origin:0 0;">(пн–пт. – 3 год 36 хв)</div>
<div class="t" style="left:567.65px;top:2158.24px;font-size:34.4px;line-height:40.7px;width:300.00px;text-align:center;">79,2</div>
<div class="t" style="left:706.15px;top:2158.24px;font-size:34.4px;line-height:40.7px;width:300.00px;text-align:center;">72</div>
<div class="t" style="left:844.45px;top:2158.24px;font-size:34.4px;line-height:40.7px;width:300.00px;text-align:center;">79,2</div>
<div class="t" style="left:982.95px;top:2158.24px;font-size:34.4px;line-height:40.7px;width:300.00px;text-align:center;">79,2</div>
<div class="t" style="left:1122.05px;top:2158.24px;font-size:34.4px;line-height:40.7px;width:300.00px;text-align:center;">72</div>
<div class="t" style="left:1261.10px;top:2158.24px;font-size:34.4px;line-height:40.7px;width:300.00px;text-align:center;">72</div>
<div class="t" style="left:1399.50px;top:2158.24px;font-size:34.4px;line-height:40.7px;width:300.00px;text-align:center;">79,2</div>
<div class="t" style="left:1538.00px;top:2158.24px;font-size:34.4px;line-height:40.7px;width:300.00px;text-align:center;">72</div>
<div class="t" style="left:1676.53px;top:2158.24px;font-size:34.4px;line-height:40.7px;width:300.00px;text-align:center;">79,2</div>
<div class="t" style="left:1815.03px;top:2158.24px;font-size:34.4px;line-height:40.7px;width:300.00px;text-align:center;">75,6</div>
<div class="t" style="left:1953.53px;top:2158.24px;font-size:34.4px;line-height:40.7px;width:300.00px;text-align:center;">75,6</div>
<div class="t" style="left:2092.55px;top:2158.24px;font-size:34.4px;line-height:40.7px;width:300.00px;text-align:center;">79,2</div>
<div class="t" style="left:2230.98px;top:2158.24px;font-size:34.4px;line-height:40.7px;width:300.00px;text-align:center;font-weight:bold;">914,4</div>
<svg style="position:absolute;left:60px;top:125px" width="50" height="40" viewBox="60 125 50 40"><g fill="#1e1e1e" stroke="none">
<path d="M72.0 131.6 L78.0 131.6 L78.0 133.0 L72.0 133.0 Z"/>
<path d="M76.7 132.0 C76.9 139 77.0 146 76.6 151.2 C76.3 154.4 74.7 156.5 72.6 156.8 L72.2 155.2 C73.8 154.8 74.8 153.4 75.0 150.8 C75.3 146 75.2 139 75.0 132.4 Z"/>
<circle cx="71.6" cy="154.4" r="2.2"/>
<path d="M76.4 131.8 L82.4 131.8 L91.6 157.8 L88.4 157.8 Z"/>
<path d="M90.1 157.6 L90.1 137.2 C90.1 133.8 92.2 131.8 95.2 131.9 L95.4 133.0 C93.0 133.2 91.6 134.8 91.6 137.6 L91.6 157.6 Z"/>
<circle cx="95.9" cy="134.2" r="2.2"/>
<path fill-rule="evenodd" d="M100.3 139.2 C103.4 139.2 105.7 142.0 105.7 145.65 C105.7 149.3 103.4 152.1 100.3 152.1 C97.2 152.1 94.9 149.3 94.9 145.65 C94.9 142.0 97.2 139.2 100.3 139.2 Z M100.1 140.9 C99.1 140.9 98.6 143.0 98.6 145.8 C98.6 148.6 99.1 150.6 100.1 150.6 C101.1 150.6 101.6 148.6 101.6 145.8 C101.6 143.0 101.1 140.9 100.1 140.9 Z"/>
<rect x="95.3" y="155.5" width="10" height="1.7"/>
</g></svg>
<div class="t" style="left:-63.05px;top:166.59px;font-size:37.5px;line-height:40.7px;width:300.00px;text-align:center;font-weight:bold;">з/п</div>
<div class="t" style="left:246.95px;top:144.79px;font-size:37.5px;line-height:40.7px;width:300.00px;text-align:center;font-weight:bold;">Показники</div>
<div class="t" style="left:1398.90px;top:40.79px;font-size:37.5px;line-height:40.7px;width:300.00px;text-align:center;font-weight:bold;">2026 рік</div>
<div class="t" style="left:589.99px;top:174.28px;width:260px;font-size:37.5px;line-height:40.7px;text-align:center;transform:rotate(-90deg);font-weight:bold;">Січень</div>
<div class="t" style="left:728.49px;top:174.28px;width:260px;font-size:37.5px;line-height:40.7px;text-align:center;transform:rotate(-90deg);font-weight:bold;">Лютий</div>
<div class="t" style="left:866.79px;top:174.28px;width:260px;font-size:37.5px;line-height:40.7px;text-align:center;transform:rotate(-90deg);font-weight:bold;">Березень</div>
<div class="t" style="left:1005.29px;top:174.28px;width:260px;font-size:37.5px;line-height:40.7px;text-align:center;transform:rotate(-90deg);font-weight:bold;">Квітень</div>
<div class="t" style="left:1144.39px;top:174.28px;width:260px;font-size:37.5px;line-height:40.7px;text-align:center;transform:rotate(-90deg);font-weight:bold;">Травень</div>
<div class="t" style="left:1283.44px;top:174.28px;width:260px;font-size:37.5px;line-height:40.7px;text-align:center;transform:rotate(-90deg);font-weight:bold;">Червень</div>
<div class="t" style="left:1421.84px;top:174.28px;width:260px;font-size:37.5px;line-height:40.7px;text-align:center;transform:rotate(-90deg);font-weight:bold;">Липень</div>
<div class="t" style="left:1560.34px;top:174.28px;width:260px;font-size:37.5px;line-height:40.7px;text-align:center;transform:rotate(-90deg);font-weight:bold;">Серпень</div>
<div class="t" style="left:1698.87px;top:174.28px;width:260px;font-size:37.5px;line-height:40.7px;text-align:center;transform:rotate(-90deg);font-weight:bold;">Вересень</div>
<div class="t" style="left:1837.37px;top:174.28px;width:260px;font-size:37.5px;line-height:40.7px;text-align:center;transform:rotate(-90deg);font-weight:bold;">Жовтень</div>
<div class="t" style="left:1975.87px;top:174.28px;width:260px;font-size:37.5px;line-height:40.7px;text-align:center;transform:rotate(-90deg);font-weight:bold;">Листопад</div>
<div class="t" style="left:2114.89px;top:174.28px;width:260px;font-size:37.5px;line-height:40.7px;text-align:center;transform:rotate(-90deg);font-weight:bold;">Грудень</div>
<div class="t" style="left:2253.32px;top:174.28px;width:260px;font-size:37.5px;line-height:40.7px;text-align:center;transform:rotate(-90deg);font-weight:bold;">Рік</div>
</div>
<div style="left:26.90px;top:30.90px;width:2424.00px;height:2.00px;background:#000"></div>
<div style="left:26.90px;top:296.70px;width:2424.00px;height:2.00px;background:#000"></div>
<div style="left:26.90px;top:354.90px;width:2424.00px;height:3.00px;background:#000"></div>
<div style="left:26.90px;top:479.60px;width:2424.00px;height:2.00px;background:#000"></div>
<div style="left:26.90px;top:806.80px;width:2424.00px;height:3.00px;background:#000"></div>
<div style="left:26.90px;top:866.80px;width:2424.00px;height:2.00px;background:#000"></div>
<div style="left:26.90px;top:949.60px;width:2424.00px;height:2.00px;background:#000"></div>
<div style="left:26.90px;top:1008.90px;width:2424.00px;height:2.00px;background:#000"></div>
<div style="left:26.90px;top:1132.90px;width:2424.00px;height:2.00px;background:#000"></div>
<div style="left:26.90px;top:1215.90px;width:2424.00px;height:2.00px;background:#000"></div>
<div style="left:26.90px;top:1299.30px;width:2424.00px;height:2.00px;background:#000"></div>
<div style="left:26.90px;top:1382.90px;width:2424.00px;height:3.00px;background:#000"></div>
<div style="left:26.90px;top:1465.70px;width:2424.00px;height:3.00px;background:#000"></div>
<div style="left:26.90px;top:1550.90px;width:2424.00px;height:2.00px;background:#000"></div>
<div style="left:26.90px;top:1633.70px;width:2424.00px;height:2.00px;background:#000"></div>
<div style="left:26.90px;top:1717.80px;width:2424.00px;height:2.00px;background:#000"></div>
<div style="left:26.90px;top:1801.00px;width:2424.00px;height:2.00px;background:#000"></div>
<div style="left:26.90px;top:1884.90px;width:2424.00px;height:2.00px;background:#000"></div>
<div style="left:26.90px;top:1966.90px;width:2424.00px;height:3.00px;background:#000"></div>
<div style="left:26.90px;top:2051.90px;width:2424.00px;height:2.00px;background:#000"></div>
<div style="left:26.90px;top:2134.75px;width:2424.00px;height:2.00px;background:#000"></div>
<div style="left:26.90px;top:2218.85px;width:2424.00px;height:2.00px;background:#000"></div>
<div style="left:646.90px;top:88.95px;width:1804.00px;height:2.00px;background:#000"></div>
<div style="left:26.90px;top:30.90px;width:2.00px;height:2189.95px;background:#000"></div>
<div style="left:145.00px;top:30.90px;width:2.00px;height:2189.95px;background:#000"></div>
<div style="left:646.90px;top:30.90px;width:2.00px;height:2189.95px;background:#000"></div>
<div style="left:785.90px;top:88.95px;width:3.00px;height:921.95px;background:#000"></div>
<div style="left:785.90px;top:1132.90px;width:3.00px;height:1087.95px;background:#000"></div>
<div style="left:923.90px;top:88.95px;width:2.00px;height:921.95px;background:#000"></div>
<div style="left:923.90px;top:1132.90px;width:2.00px;height:1087.95px;background:#000"></div>
<div style="left:1063.00px;top:88.95px;width:2.00px;height:921.95px;background:#000"></div>
<div style="left:1063.00px;top:1132.90px;width:2.00px;height:1087.95px;background:#000"></div>
<div style="left:1200.90px;top:88.95px;width:2.00px;height:921.95px;background:#000"></div>
<div style="left:1200.90px;top:1132.90px;width:2.00px;height:1087.95px;background:#000"></div>
<div style="left:1341.20px;top:88.95px;width:2.00px;height:921.95px;background:#000"></div>
<div style="left:1341.20px;top:1132.90px;width:2.00px;height:1087.95px;background:#000"></div>
<div style="left:1479.00px;top:88.95px;width:2.00px;height:921.95px;background:#000"></div>
<div style="left:1479.00px;top:1132.90px;width:2.00px;height:1087.95px;background:#000"></div>
<div style="left:1618.00px;top:88.95px;width:2.00px;height:921.95px;background:#000"></div>
<div style="left:1618.00px;top:1132.90px;width:2.00px;height:1087.95px;background:#000"></div>
<div style="left:1756.00px;top:88.95px;width:2.00px;height:921.95px;background:#000"></div>
<div style="left:1756.00px;top:1132.90px;width:2.00px;height:1087.95px;background:#000"></div>
<div style="left:1895.05px;top:88.95px;width:2.00px;height:921.95px;background:#000"></div>
<div style="left:1895.05px;top:1132.90px;width:2.00px;height:1087.95px;background:#000"></div>
<div style="left:2033.00px;top:88.95px;width:2.00px;height:921.95px;background:#000"></div>
<div style="left:2033.00px;top:1132.90px;width:2.00px;height:1087.95px;background:#000"></div>
<div style="left:2172.05px;top:88.95px;width:2.00px;height:921.95px;background:#000"></div>
<div style="left:2172.05px;top:1132.90px;width:2.00px;height:1087.95px;background:#000"></div>
<div style="left:2311.05px;top:88.95px;width:2.00px;height:921.95px;background:#000"></div>
<div style="left:2311.05px;top:1132.90px;width:2.00px;height:1087.95px;background:#000"></div>
<div style="left:2448.90px;top:30.90px;width:2.00px;height:2189.95px;background:#000"></div>
</body></html>
